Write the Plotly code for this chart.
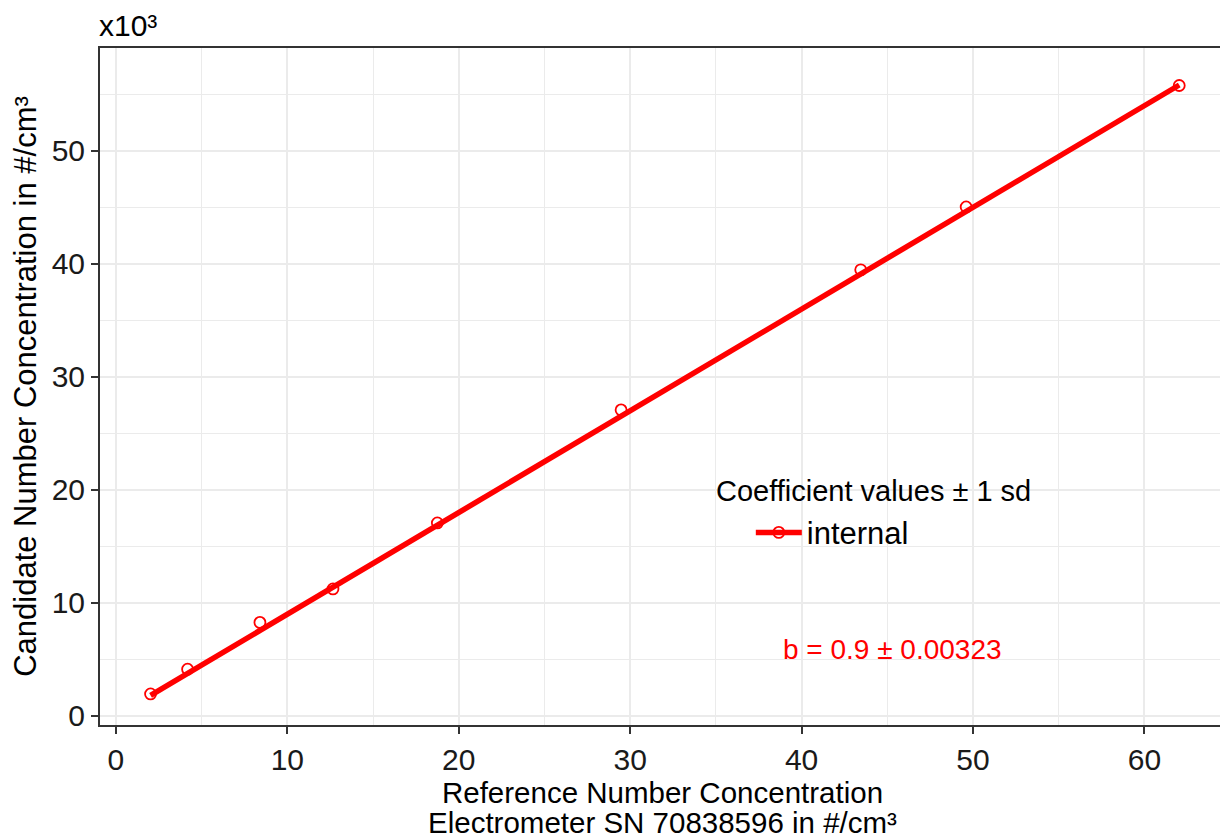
import plotly.graph_objects as go

# Data (values in units of 10^3 #/cm³)
ref_conc = [2.02, 4.18, 8.40, 12.66, 18.75, 29.47, 43.45, 49.60, 62.03]
cand_conc = [1.95, 4.14, 8.28, 11.24, 17.08, 27.08, 39.47, 45.04, 55.78]
slope_b = 0.9
slope_sd = 0.00323
series_name = "internal"
legend_title = "Coefficient values ± 1 sd"
x_ticks = [0, 10, 20, 30, 40, 50, 60]
y_ticks = [0, 10, 20, 30, 40, 50]
x_title_1 = "Reference Number Concentration"
x_title_2 = "Electrometer SN 70838596 in #/cm³"
y_title = "Candidate Number Concentration in #/cm³"

RED = "#FF0000"
FONT = "Liberation Sans, Arial, sans-serif"
GRID = "#EBEBEB"
AX = "#333333"

fit_x = [min(ref_conc), max(ref_conc)]
fit_y = [slope_b * v for v in fit_x]

fig = go.Figure()
fig.add_trace(go.Scatter(x=fit_x, y=fit_y, mode="lines",
                         line=dict(color=RED, width=5.5), showlegend=False,
                         hoverinfo="skip"))
fig.add_trace(go.Scatter(x=ref_conc, y=cand_conc, mode="markers",
                         marker=dict(symbol="circle-open", size=11, color=RED,
                                     line=dict(width=1.8, color=RED)),
                         showlegend=False))
# legend entry (line + open circle)
fig.add_trace(go.Scatter(x=[None], y=[None], mode="lines+markers", name=series_name,
                         line=dict(color=RED, width=5.5),
                         marker=dict(symbol="circle-open", size=11, color=RED,
                                     line=dict(width=1.8, color=RED))))

axis_common = dict(
    showgrid=True, gridcolor=GRID, gridwidth=2.2,
    zeroline=False, showline=True, linecolor=AX, linewidth=2, mirror=True,
    ticks="outside", ticklen=7, tickwidth=2, tickcolor=AX,
    tickfont=dict(family=FONT, size=30, color="#1a1a1a"),
    minor=dict(dtick=5, showgrid=True, gridcolor=GRID, gridwidth=1.1, ticks=""),
)

fig.update_xaxes(range=[-0.93, 64.7], tickvals=x_ticks,
                 title=dict(text=x_title_1,
                            font=dict(family=FONT, size=29.5, color="black"), standoff=0),
                 **axis_common)
fig.update_yaxes(range=[-0.8, 59.1], tickvals=y_ticks,
                 title=dict(text=y_title,
                            font=dict(family=FONT, size=31, color="black"), standoff=8),
                 **axis_common)

fig.add_annotation(xref="paper", yref="paper", x=0.5, y=0.0, xanchor="center", yanchor="middle",
                   yshift=-97, text=x_title_2, showarrow=False,
                   font=dict(family=FONT, size=29.5, color="black"))
fig.add_annotation(xref="paper", yref="paper", x=0.0, y=1.0, xanchor="left", yanchor="bottom",
                   xshift=-3, yshift=4, text="x10³", showarrow=False,
                   font=dict(family=FONT, size=30, color="black"))
fig.add_annotation(x=45.3, y=5.9, text=f"b = {slope_b} ± {slope_sd}", showarrow=False,
                   font=dict(family=FONT, size=28, color=RED))
fig.add_annotation(xref="paper", yref="paper", x=0.546, y=0.345, xanchor="left", yanchor="middle",
                   text=legend_title, showarrow=False,
                   font=dict(family=FONT, size=29, color="black"))

fig.update_layout(
    width=1220, height=831,
    margin=dict(l=92, r=1, t=40, b=114),
    paper_bgcolor="white", plot_bgcolor="white",
    legend=dict(x=0.5785, y=0.284, xanchor="left", yanchor="middle",
                bgcolor="rgba(0,0,0,0)", font=dict(family=FONT, size=31, color="black"),
                itemwidth=46),
    font=dict(family=FONT),
)

fig.write_html("out.html")
